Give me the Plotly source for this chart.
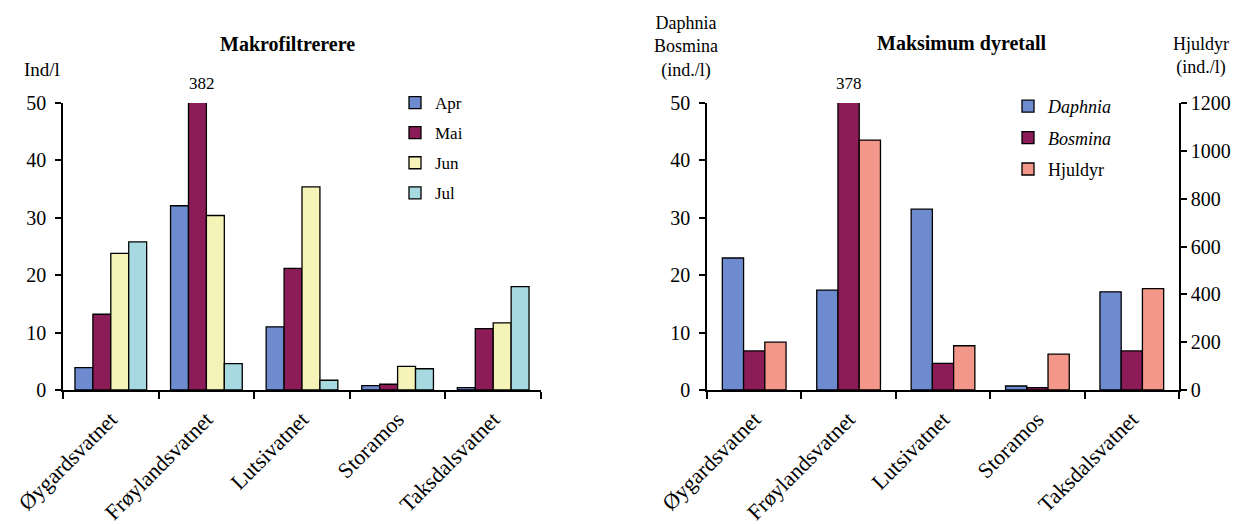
import plotly.graph_objects as go

lakes = ["Øygardsvatnet", "Frøylandsvatnet", "Lutsivatnet", "Storamos", "Taksdalsvatnet"]

# Left chart: Makrofiltrerere (Ind/l)
months = ["Apr", "Mai", "Jun", "Jul"]
apr = [3.9, 32.1, 11.0, 0.75, 0.4]
mai = [13.2, 382, 21.2, 1.0, 10.7]
jun = [23.8, 30.4, 35.4, 4.1, 11.7]
jul = [25.8, 4.6, 1.7, 3.7, 18.0]

# Right chart: Maksimum dyretall
daphnia = [23.0, 17.4, 31.5, 0.7, 17.1]
bosmina = [6.8, 378, 4.65, 0.4, 6.8]
hjuldyr = [200, 1045, 185, 150, 424]

left_ticks = [0, 10, 20, 30, 40, 50]
right_ticks = [0, 200, 400, 600, 800, 1000, 1200]

FONT = "Liberation Serif"
C_BLUE = "#6f8bd0"
C_MAG = "#8c1c58"
C_YEL = "#f5f3b8"
C_CYAN = "#a6d9e0"
C_SAL = "#f3978a"
LINE = dict(color="black", width=1.3)

fig = go.Figure()

left_cols = [C_BLUE, C_MAG, C_YEL, C_CYAN]
for name, vals, col in zip(months, [apr, mai, jun, jul], left_cols):
    fig.add_trace(go.Bar(x=lakes, y=vals, name=name, marker=dict(color=col, line=LINE),
                         xaxis="x", yaxis="y", legend="legend", legendgroup=name))

bw = 0.225
right = [("Daphnia", daphnia, C_BLUE, "y2", -1.5 * bw, "<i>Daphnia</i>"),
         ("Bosmina", bosmina, C_MAG, "y2", -0.5 * bw, "<i>Bosmina</i>"),
         ("Hjuldyr", hjuldyr, C_SAL, "y3", 0.5 * bw, "Hjuldyr")]
for name, vals, col, ya, off, label in right:
    fig.add_trace(go.Bar(x=lakes, y=vals, name=label, marker=dict(color=col, line=LINE),
                         width=bw, offset=off,
                         xaxis="x2", yaxis=ya, legend="legend2", legendgroup=name))

ybot = 1 - 390 / 525
ytop = 1 - 103 / 525
axfont = dict(family=FONT, size=20, color="black")
catfont = dict(family=FONT, size=22, color="black")

common_x = dict(type="category", showline=True, linecolor="black", linewidth=1.5,
                ticks="outside", tickson="boundaries", ticklen=7, tickcolor="black",
                tickwidth=1.5, tickangle=-45, tickfont=catfont, showgrid=False,
                zeroline=False, range=[-0.5, 4.5], fixedrange=True, automargin=False,
                ticklabelstandoff=6)
common_y = dict(showline=True, linecolor="black", linewidth=1.5, ticks="outside",
                ticklen=6, tickcolor="black", tickwidth=1.5, tickfont=axfont,
                showgrid=False, zeroline=False, automargin=False)

fig.update_layout(
    template="none",
    width=1242, height=525,
    margin=dict(l=0, r=0, t=0, b=0, autoexpand=False),
    paper_bgcolor="white", plot_bgcolor="white",
    font=dict(family=FONT, color="black"),
    barmode="group", bargap=0.25, bargroupgap=0,
    showlegend=True,
    xaxis=dict(common_x, domain=[63 / 1242, 541 / 1242], anchor="y"),
    yaxis=dict(common_y, domain=[ybot, ytop], range=[0, 50], tickvals=left_ticks,
               anchor="x", ticklabelstandoff=5),
    xaxis2=dict(common_x, domain=[707 / 1242, 1179 / 1242], anchor="y2"),
    yaxis2=dict(common_y, domain=[ybot, ytop], range=[0, 50], tickvals=left_ticks,
                anchor="x2", ticklabelstandoff=5),
    yaxis3=dict(common_y, range=[0, 1200], tickvals=right_ticks, overlaying="y2",
                side="right", anchor="x2"),
    legend=dict(x=395 / 1242, y=1 - 85 / 525, xanchor="left", yanchor="top",
                font=dict(family=FONT, size=17, color="black"), tracegroupgap=5,
                bgcolor="rgba(0,0,0,0)", traceorder="grouped"),
    legend2=dict(x=1008 / 1242, y=1 - 88 / 525, xanchor="left", yanchor="top",
                 font=dict(family=FONT, size=18, color="black"), tracegroupgap=5,
                 bgcolor="rgba(0,0,0,0)", traceorder="grouped"),
)

ann = [
    dict(text="<b>Makrofiltrerere</b>", x=287 / 1242, y=1 - 44 / 525, size=20),
    dict(text="<b>Maksimum dyretall</b>", x=962 / 1242, y=1 - 43 / 525, size=20),
    dict(text="Ind/l", x=42 / 1242, y=1 - 70 / 525, size=19),
    dict(text="Daphnia<br>Bosmina<br>(ind./l)", x=686 / 1242, y=1 - 47 / 525, size=18),
    dict(text="Hjuldyr<br>(ind./l)", x=1201 / 1242, y=1 - 56 / 525, size=18),
]
for a in ann:
    fig.add_annotation(text=a["text"], x=a["x"], y=a["y"], xref="paper", yref="paper",
                       showarrow=False, xanchor="center", yanchor="middle",
                       font=dict(family=FONT, size=a["size"], color="black"))

fig.add_annotation(text=str(mai[1]), x=lakes[1], y=50, xref="x", yref="y", xshift=-4,
                   yshift=8, yanchor="bottom", showarrow=False,
                   font=dict(family=FONT, size=17, color="black"))
fig.add_annotation(text=str(bosmina[1]), x=lakes[1], y=50, xref="x2", yref="y2",
                   yshift=8, yanchor="bottom", showarrow=False,
                   font=dict(family=FONT, size=17, color="black"))

fig.write_html("out.html", post_script="document.body.style.margin='0';",
               config={"displayModeBar": False})
